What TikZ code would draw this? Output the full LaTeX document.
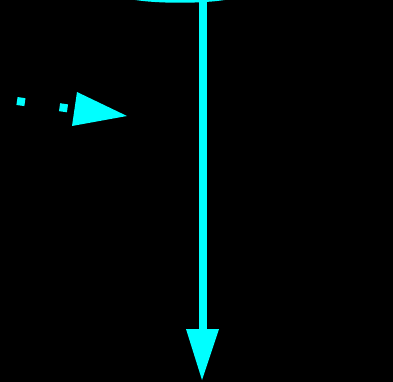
\documentclass[tikz,border=0pt]{standalone}
\definecolor{aqua}{RGB}{0,255,255}
\begin{document}
\begin{tikzpicture}[x=1pt,y=-1pt,
  cyanline/.style={draw=aqua, line width=8pt},
  headfill/.style={fill=aqua, draw=none}]
\fill[black] (0,0) rectangle (393,382);
\useasboundingbox (0,0) rectangle (393,382);
\begin{scope}
\clip (0,0) rectangle (393,382);
\draw[aqua, line width=2.5pt] (180,-5.5) ellipse[x radius=56, y radius=7];
\end{scope}
\coordinate (vtop) at (203,0);
\coordinate (vbase) at (203,332);
\coordinate (vtip) at (202,380);
\draw[cyanline] (vtop) -- (vbase);
\fill[headfill] (186,329) -- (219,329) -- (vtip) -- cycle;
\coordinate (d1) at (17,101);
\coordinate (d2) at (72,109);
\draw[aqua, line width=8pt, dash pattern=on 8pt off 35pt] (d1) -- (d2);
\fill[headfill] (77,92) -- (127,116) -- (72,126) -- cycle;
\end{tikzpicture}
\end{document}
